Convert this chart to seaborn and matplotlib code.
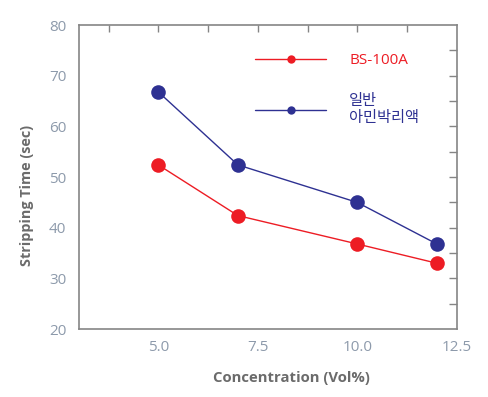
import matplotlib
matplotlib.use("Agg")
import matplotlib.pyplot as plt
from matplotlib.lines import Line2D
from matplotlib.ticker import MultipleLocator
import seaborn as sns
import pandas as pd

concentration = [5.0, 7.0, 10.0, 12.0]
bs100a = [52.4, 42.4, 36.8, 33.0]
general = [66.8, 52.4, 45.0, 36.8]
series_names = ["BS-100A", "일반\n아민박리액"]
colors = ["#ED1C24", "#2E3192"]
xtick_labels = ["5.0", "7.5", "10.0", "12.5"]

df = pd.DataFrame({
    "conc": concentration * 2,
    "time": bs100a + general,
    "series": [series_names[0]] * 4 + [series_names[1]] * 4,
})

sns.set_style("white")
plt.rcParams["font.family"] = ["Open Sans", "Noto Sans CJK KR", "DejaVu Sans"]

fig = plt.figure(figsize=(4.89, 3.97), dpi=100)
ax = fig.add_axes([0.161, 0.171, 0.773, 0.766])

sns.lineplot(data=df, x="conc", y="time", hue="series", palette=colors,
             marker="o", markersize=10.5, markeredgewidth=0, linewidth=1.0,
             legend=False, ax=ax)

ax.set_xlim(3.0, 12.5)
ax.set_ylim(20, 80)
ax.set_xticks([5.0, 7.5, 10.0, 12.5])
ax.set_xticklabels(xtick_labels)
ax.xaxis.set_minor_locator(MultipleLocator(1.25))
ax.yaxis.set_major_locator(MultipleLocator(10))
ax.yaxis.set_minor_locator(MultipleLocator(5))

axis_col = "#858585"
for s in ax.spines.values():
    s.set_color(axis_col)
    s.set_linewidth(1.2)

ax.tick_params(axis="both", which="both", direction="out", colors=axis_col,
               labelcolor="#8d9aab", labelsize=11, width=1.0, length=4)
ax.tick_params(axis="x", which="major", pad=4)
ax.tick_params(axis="y", which="major", pad=5)

top = ax.secondary_xaxis("top")
top.set_xticks([3.75, 5.0, 6.25, 7.5, 8.75, 10.0, 11.25])
top.tick_params(direction="in", length=5, colors=axis_col, labeltop=False, width=1.0)
top.spines["top"].set_visible(False)
right = ax.secondary_yaxis("right")
right.set_yticks([25, 30, 35, 40, 45, 50, 55, 60, 65, 70, 75])
right.tick_params(direction="in", length=6, colors=axis_col, labelright=False, width=1.0)
right.spines["right"].set_visible(False)

ax.set_xlabel("Concentration (Vol%)", fontsize=10.7, fontweight="bold",
              color="#6b6b6b")
ax.set_ylabel("Stripping Time (sec)", fontsize=10.4, fontweight="bold",
              color="#6b6b6b")
ax.xaxis.set_label_coords(0.5616, -0.137)
ax.yaxis.set_label_coords(-0.118, 0.439)

handles = [Line2D([], [], color=c, marker="o", markersize=6, markeredgewidth=0,
                  linewidth=1.0) for c in colors]
leg = ax.legend(handles, series_names, loc="upper left",
                bbox_to_anchor=(0.429, 0.953), frameon=False, fontsize=11,
                handlelength=4.7, handletextpad=1.5, labelspacing=1.7,
                labelcolor="linecolor")

fig.savefig("out.png", dpi=100)
